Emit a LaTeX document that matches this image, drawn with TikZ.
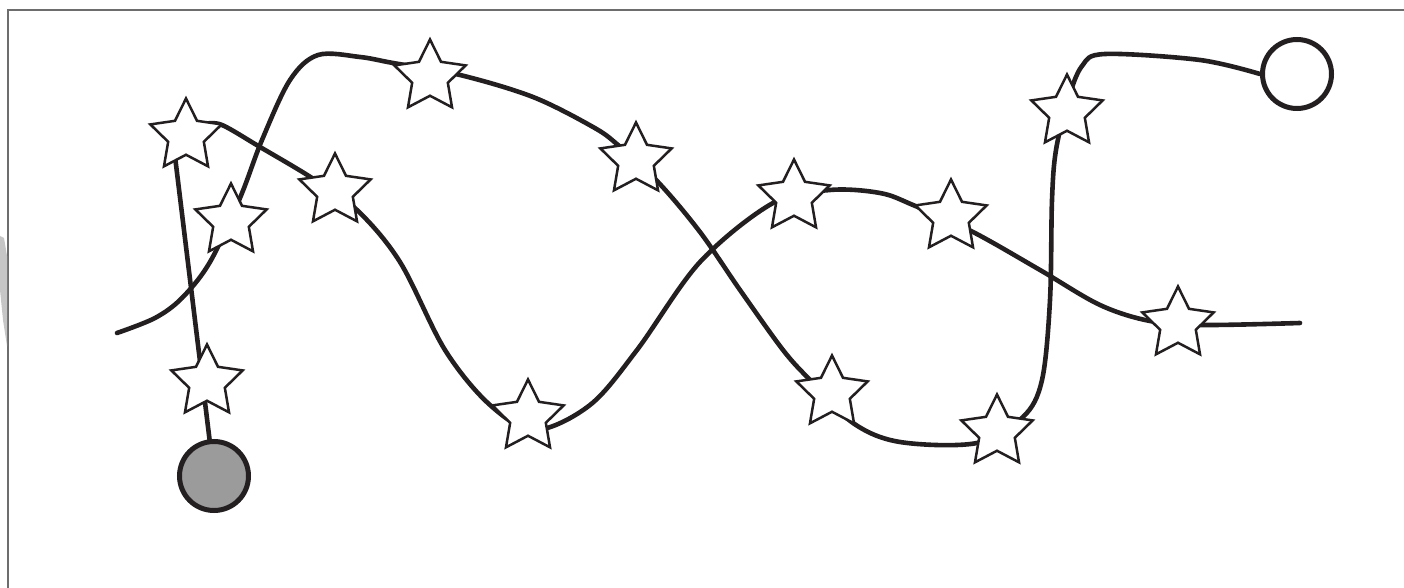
\documentclass[tikz,border=0pt]{standalone}
\usetikzlibrary{shapes.geometric}
\definecolor{ink}{HTML}{231F20}
\definecolor{framegray}{HTML}{6D6D6D}
\definecolor{ballgray}{HTML}{9B9B9B}
\begin{document}
\begin{tikzpicture}[x=0.5pt,y=-0.5pt,
  track/.style={draw=ink,line width=2.3pt,line cap=round,line join=round},
  starmark/.style={star,star points=5,star point ratio=2.0,minimum size=37.5pt,inner sep=0pt,draw=ink,fill=white,line width=1.25pt},
  ball/.style={circle,minimum size=34.5pt,inner sep=0pt,draw=ink,line width=2.5pt}]
\useasboundingbox (0,0) rectangle (1404,588);
% frame
\begin{scope}
\clip (0,0) rectangle (1404,588);
\draw[framegray,line width=1pt] (8,600) -- (8,10) -- (1420,10);
\fill[gray!45] (0,236) -- (4,238) -- (7,256) -- (7,346) -- (3,320) -- (0,290) -- cycle;
\end{scope}
% end balls
\node[ball,fill=ballgray] (fc) at (214,476) {};
\node[ball,fill=white] (oc) at (1297,74) {};
% path A
\coordinate (a0) at (173,140);
\draw[track] (fc) -- (a0);
\draw[track] plot[smooth,tension=0.55] coordinates {(205,124) (222,125) (260,147) (312,178) (357,210) (400,262) (445,350) (490,405) (535,430) (590,405) (637,350) (700,262) (773,203) (830,190) (880,193) (913,205) (973,232) (1040,270) (1100,305) (1150,321) (1203,325) (1300,323)};
% path B
\coordinate (b0) at (117,333);
\draw[track] plot[smooth,tension=0.55] coordinates {(b0) (155,318) (182,298) (210,262) (240,198) (262,140) (290,80) (318,55) (360,57) (393,63) (460,75) (533,97) (593,127) (618,145) (658,182) (700,232) (740,290) (783,350) (810,380) (853,423) (900,442) (977,443) (1023,417) (1042,380) (1050,300) (1052,200) (1056,150) (1068,100) (1082,66) (1105,54) (1200,60) (oc.west)};
% stars
\node[starmark] (s1) at (186,136) {};
\node[starmark] (s2) at (231,221) {};
\node[starmark] (s3) at (335,191) {};
\node[starmark] (s4) at (430,77) {};
\node[starmark] (s5) at (636,160) {};
\node[starmark] (s6) at (528,417) {};
\node[starmark] (s7) at (794,197) {};
\node[starmark] (s8) at (951,217) {};
\node[starmark] (s9) at (832,393) {};
\node[starmark] (s10) at (997,432) {};
\node[starmark] (s11) at (1067,112) {};
\node[starmark] (s12) at (1178,324) {};
\node[starmark] (s13) at (207,382) {};
\end{tikzpicture}
\end{document}
